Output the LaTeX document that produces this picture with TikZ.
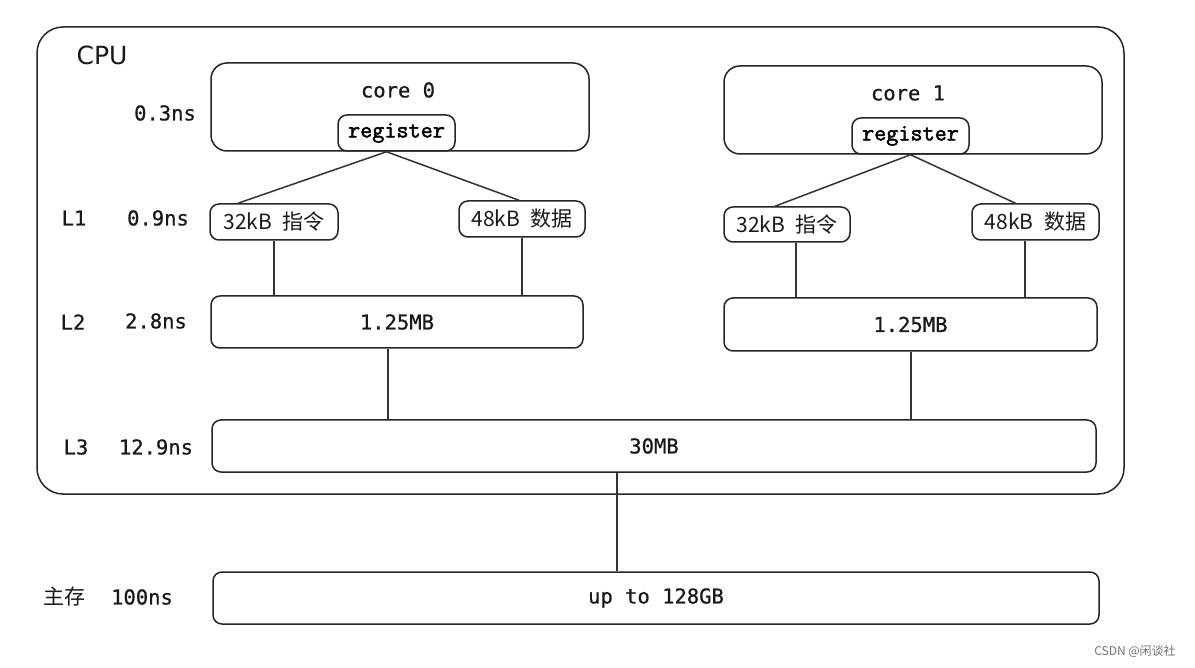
\documentclass[tikz,border=0pt]{standalone}
\usepackage{fontspec}
\setmainfont{DejaVu Sans}
\newfontfamily\monof[UprightFeatures={FakeBold=0.7}]{DejaVu Sans Mono}
\newfontfamily\slabf[UprightFeatures={FakeBold=2}]{Latin Modern Mono}
\newfontfamily\cjkf{Noto Sans CJK SC}
\usetikzlibrary{calc}
\begin{document}
\begin{tikzpicture}[x=1pt,y=-1pt,
  box/.style={draw=black!85, line width=1.5pt, rounded corners=9pt, rectangle, inner sep=0pt, fill=white},
  mono/.style={font=\monof\fontsize{20.5}{22}\selectfont, text=black!90},
  slab/.style={font=\slabf\fontsize{23.5}{25}\selectfont, text=black},
  cjk/.style={font=\cjkf\fontsize{21}{23}\selectfont, text=black!90},
  link/.style={draw=black!80, line width=1.5pt}
]
\useasboundingbox[fill=white] (0,0) rectangle (1195,668);

% CPU frame
\node[box, rounded corners=26pt, minimum width=1087pt, minimum height=467pt] (cpu) at (580.5,260.5) {};
\node[font=\fontsize{25}{28}\selectfont, text=black!90] (cpulbl) at (102,55) {CPU};

% cores
\node[box, rounded corners=16pt, minimum width=378pt, minimum height=88pt] (core0) at (400,107) {};
\node[mono] (core0t) at (398,90) {core 0};
\node[box, slab, minimum width=117pt, minimum height=36pt] (reg0) at (396.5,133) {register};

\node[box, rounded corners=16pt, minimum width=378pt, minimum height=88pt] (core1) at (913,110) {};
\node[mono] (core1t) at (908,93) {core 1};
\node[box, slab, minimum width=117pt, minimum height=36pt] (reg1) at (910.5,136) {register};

% L1
\node[box, cjk, minimum width=128pt, minimum height=36pt] (l1a0) at (274,222) {32kB\enspace 指令};
\node[box, cjk, minimum width=126pt, minimum height=36pt] (l1b0) at (522,219) {48kB\enspace 数据};
\node[box, cjk, minimum width=126pt, minimum height=35pt] (l1a1) at (787,224.5) {32kB\enspace 指令};
\node[box, cjk, minimum width=127pt, minimum height=36pt] (l1b1) at (1035.5,222) {48kB\enspace 数据};

% L2
\node[box, mono, minimum width=372pt, minimum height=52pt] (l20) at (397,322) {1.25MB};
\node[box, mono, minimum width=373pt, minimum height=53pt] (l21) at (910.5,324.5) {1.25MB};

% L3
\node[box, mono, minimum width=884pt, minimum height=52pt] (l3) at (654,446) {30MB};

% memory
\node[box, mono, minimum width=886pt, minimum height=52pt] (mem) at (656,598) {up to 128GB};

% left labels
\node[mono] (t03) at (165,113) {0.3ns};
\node[mono] (tl1) at (74,218) {L1};
\node[mono] (t09) at (158,218) {0.9ns};
\node[mono] (tl2) at (73,322) {L2};
\node[mono] (t28) at (156,321) {2.8ns};
\node[mono] (tl3) at (76,447) {L3};
\node[mono] (t129) at (156,447) {12.9ns};
\node[cjk] (tmem) at (64,597) {主存};
\node[mono] (t100) at (142,597) {100ns};

% connectors
\draw[link] ($(reg0.south)+(-10,0)$) -- ($(l1a0.north)+(-36,0)$);
\draw[link] ($(reg0.south)+(-10,0)$) -- ($(l1b0.north)+(-3,0)$);
\draw[link] (reg1.south) -- ($(l1a1.north)+(-12,0)$);
\draw[link] (reg1.south) -- ($(l1b1.north)+(-20,0)$);

\draw[link] (l1a0.south) -- (l1a0.south |- l20.north);
\draw[link] (l1b0.south) -- (l1b0.south |- l20.north);
\draw[link] ($(l1a1.south)+(9,0)$) -- ($(l1a1.south |- l21.north)+(9,0)$);
\draw[link] ($(l1b1.south)+(-10.5,0)$) -- ($(l1b1.south |- l21.north)+(-10.5,0)$);

\draw[link] ($(l20.south)+(-9,0)$) -- ($(l20.south |- l3.north)+(-9,0)$);
\draw[link] ($(l21.south)+(0.5,0)$) -- ($(l21.south |- l3.north)+(0.5,0)$);

\draw[link] ($(l3.south)+(-37,0)$) -- ($(l3.south |- mem.north)+(-37,0)$);

% watermark
\node[font=\cjkf\fontsize{12}{14}\selectfont, text=black!55] (wm) at (1135,651) {CSDN @闲谈社};
\end{tikzpicture}
\end{document}
